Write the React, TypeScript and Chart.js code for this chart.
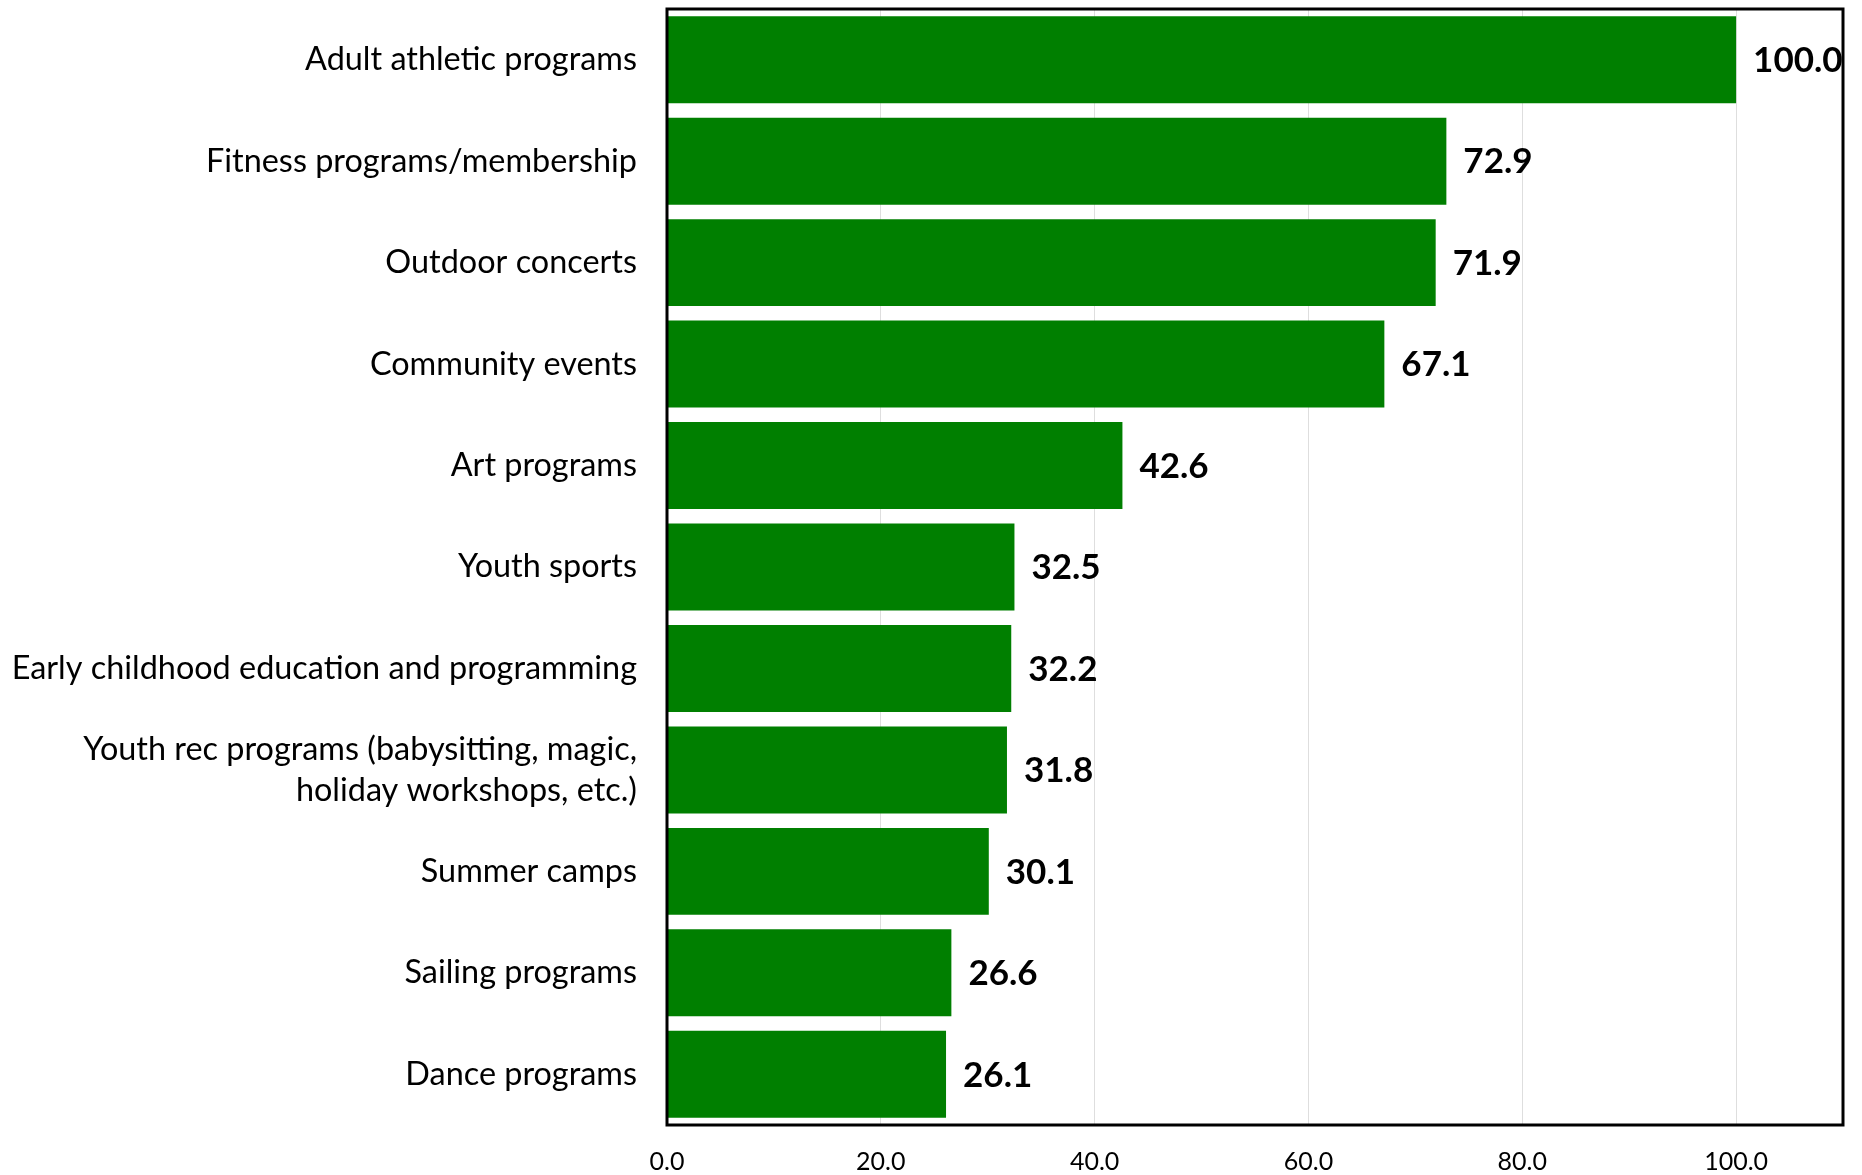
import React, { useEffect, useRef } from "react";
import { Chart, registerables } from "chart.js";

Chart.register(...registerables);

const categories: (string | string[])[] = [
  "Adult athletic programs",
  "Fitness programs/membership",
  "Outdoor concerts",
  "Community events",
  "Art programs",
  "Youth sports",
  "Early childhood education and programming",
  ["Youth rec programs (babysitting, magic,", "holiday workshops, etc.)"],
  "Summer camps",
  "Sailing programs",
  "Dance programs",
];

const values: number[] = [100.0, 72.9, 71.9, 67.1, 42.6, 32.5, 32.2, 31.8, 30.1, 26.6, 26.1];

const xTickValues: number[] = [0, 20, 40, 60, 80, 100];

const FONT = "Lato, 'Open Sans', sans-serif";

const labelPlugin = {
  id: "barLabels",
  afterDatasetsDraw(chart: any) {
    const { ctx, chartArea } = chart;
    const meta = chart.getDatasetMeta(0);
    ctx.save();
    ctx.beginPath();
    ctx.rect(chartArea.left, chartArea.top, chartArea.right - chartArea.left, chartArea.bottom - chartArea.top);
    ctx.clip();
    ctx.font = `bold 35px ${FONT}`;
    ctx.fillStyle = "#000";
    ctx.textAlign = "left";
    ctx.textBaseline = "middle";
    meta.data.forEach((bar: any, i: number) => {
      ctx.fillText(values[i].toFixed(1), bar.x + 17, bar.y + 1);
    });
    ctx.restore();
  },
  afterDraw(chart: any) {
    const { ctx, chartArea } = chart;
    ctx.save();
    ctx.strokeStyle = "#000";
    ctx.lineWidth = 3;
    ctx.strokeRect(chartArea.left, chartArea.top, chartArea.right - chartArea.left, chartArea.bottom - chartArea.top);
    ctx.restore();
  },
};

export default function App() {
  const ref = useRef<HTMLCanvasElement | null>(null);
  useEffect(() => {
    if (!ref.current) return;
    const chart = new Chart(ref.current, {
      type: "bar",
      data: {
        labels: categories,
        datasets: [
          {
            data: values,
            backgroundColor: "#007f00",
            borderWidth: 0,
            barPercentage: 0.857,
            categoryPercentage: 1,
          },
        ],
      },
      options: {
        indexAxis: "y",
        animation: false,
        responsive: true,
        maintainAspectRatio: false,
        layout: { padding: { top: 9, right: 19, left: 0, bottom: 0 } },
        plugins: { legend: { display: false }, tooltip: { enabled: false } },
        scales: {
          x: {
            min: 0,
            max: 110,
            afterBuildTicks: (scale: any) => {
              scale.ticks = xTickValues.map((v) => ({ value: v }));
            },
            afterFit: (scale: any) => {
              scale.height = 50;
              scale.paddingLeft = 0;
              scale.paddingRight = 0;
            },
            grid: { color: "#dedede", lineWidth: 1, drawTicks: false },
            border: { display: false },
            ticks: {
              color: "#000",
              font: { family: FONT, size: 25 },
              padding: 22,
              callback: (v: any) => Number(v).toFixed(1),
            },
          },
          y: {
            afterFit: (scale: any) => {
              scale.width = 667;
              scale.paddingTop = 0;
              scale.paddingBottom = 0;
            },
            grid: { display: false, drawTicks: false },
            border: { display: false },
            ticks: {
              color: "#000",
              font: { family: FONT, size: 32.4, lineHeight: 1.27 },
              padding: 30,
              autoSkip: false,
            },
          },
        },
      },
      plugins: [labelPlugin],
    });
    return () => chart.destroy();
  }, []);
  return (
    <div style={{ position: "fixed", left: 0, top: 0, width: 1862, height: 1175, background: "#fff" }}>
      <canvas ref={ref} />
    </div>
  );
}
